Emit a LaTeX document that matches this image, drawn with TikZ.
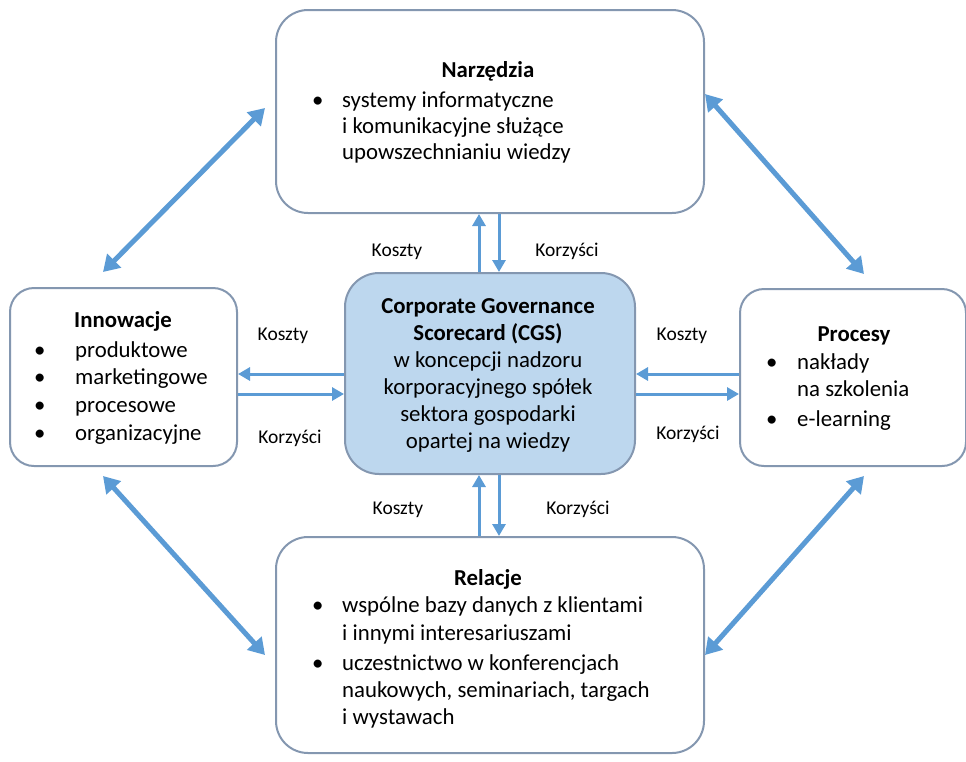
\documentclass[tikz,border=0pt]{standalone}
\usepackage{fontspec}
\setmainfont{Carlito}
\usetikzlibrary{arrows.meta}
\definecolor{arr}{HTML}{5B9BD5}
\definecolor{bord}{HTML}{8497B0}
\definecolor{cgsfill}{HTML}{BDD7EE}
\begin{document}
\begin{tikzpicture}[x=1pt,y=-1pt,
  box/.style={draw=bord,line width=2pt,fill=white,rounded corners=32pt},
  txt/.style={anchor=base west,inner sep=0,font=\fontsize{22.8}{26}\selectfont},
  ttl/.style={anchor=base,inner sep=0,font=\fontsize{22.8}{26}\selectfont\bfseries},
  ctr/.style={anchor=base,inner sep=0,font=\fontsize{22.8}{26}\selectfont},
  lbl/.style={anchor=base,inner sep=0,font=\fontsize{19.5}{22}\selectfont},
  sarr/.style={draw=arr,line width=3pt,-{Triangle[length=12pt,width=13pt]}},
  darr/.style={draw=arr,line width=5pt,{Triangle[length=16pt,width=19pt]}-{Triangle[length=16pt,width=19pt]}}]
\useasboundingbox (0,0) rectangle (966,761);
% boxes
\node[box,minimum width=428pt,minimum height=203pt,anchor=north west] (narz) at (275,9) {};
\node[box,rounded corners=24pt,minimum width=227pt,minimum height=178pt,anchor=north west] (inno) at (9,287) {};
\node[box,rounded corners=24pt,minimum width=226pt,minimum height=177pt,anchor=north west] (proc) at (739,288) {};
\node[box,minimum width=428pt,minimum height=216pt,anchor=north west] (rel) at (275,536) {};
\node[box,fill=cgsfill,rounded corners=34pt,minimum width=290pt,minimum height=201pt,anchor=north west] (cgs) at (344,272) {};
% Narzedzia text
\node[ttl] (t1) at (488,77) {Narzędzia};
\node[txt] (b1) at (312,107) {\textbullet};
\node[txt] (n1) at (342,107) {systemy informatyczne};
\node[txt] (n2) at (342,133) {i komunikacyjne służące};
\node[txt] (n3) at (342,159) {upowszechnianiu wiedzy};
% Innowacje
\node[ttl] (t2) at (123,327) {Innowacje};
\node[txt] (b2a) at (34,357) {\textbullet};
\node[txt] (i1) at (75,357) {produktowe};
\node[txt] (b2b) at (34,384) {\textbullet};
\node[txt] (i2) at (75,384) {marketingowe};
\node[txt] (b2c) at (34,412) {\textbullet};
\node[txt] (i3) at (75,412) {procesowe};
\node[txt] (b2d) at (34,440) {\textbullet};
\node[txt] (i4) at (75,440) {organizacyjne};
% Procesy
\node[ttl] (t3) at (854,341) {Procesy};
\node[txt] (b3a) at (766,369) {\textbullet};
\node[txt] (p1) at (797,369) {nakłady};
\node[txt] (p2) at (797,396) {na szkolenia};
\node[txt] (b3b) at (766,426) {\textbullet};
\node[txt] (p3) at (797,426) {e-learning};
% Relacje
\node[ttl] (t4) at (488,585) {Relacje};
\node[txt] (b4a) at (312,612) {\textbullet};
\node[txt] (r1) at (342,612) {wspólne bazy danych z klientami};
\node[txt] (r2) at (342,640) {i innymi interesariuszami};
\node[txt] (b4b) at (312,670) {\textbullet};
\node[txt] (r3) at (342,670) {uczestnictwo w konferencjach};
\node[txt] (r4) at (342,697) {naukowych, seminariach, targach};
\node[txt] (r5) at (342,724) {i wystawach};
% CGS
\node[ttl] (c1) at (488,313) {Corporate Governance};
\node[ttl] (c2) at (488,340) {Scorecard (CGS)};
\node[ctr] (c3) at (488,367) {w koncepcji nadzoru};
\node[ctr] (c4) at (488,394) {korporacyjnego spółek};
\node[ctr] (c5) at (488,421) {sektora gospodarki};
\node[ctr] (c6) at (488,448) {opartej na wiedzy};
% labels
\node[lbl] (k1) at (397,256) {Koszty};
\node[lbl] (z1) at (567,256) {Korzyści};
\node[lbl] (k2) at (398,514) {Koszty};
\node[lbl] (z2) at (578,514) {Korzyści};
\node[lbl] (k3) at (283,340) {Koszty};
\node[lbl] (z3) at (290,443) {Korzyści};
\node[lbl] (k4) at (682,340) {Koszty};
\node[lbl] (z4) at (688,439) {Korzyści};
% vertical arrows
\draw[sarr] ([xshift=-11pt]cgs.north) -- ([xshift=-11pt]cgs.north |- narz.south);
\draw[sarr] ([xshift=9pt]cgs.north |- narz.south) -- ([xshift=9pt]cgs.north);
\draw[sarr] ([xshift=-11pt]cgs.south |- rel.north) -- ([xshift=-11pt]cgs.south);
\draw[sarr] ([xshift=9pt]cgs.south) -- ([xshift=9pt]cgs.south |- rel.north);
% horizontal arrows
\coordinate (hl1) at (236,374);
\coordinate (hl2) at (236,394);
\draw[sarr] (cgs.west |- hl1) -- (inno.east |- hl1);
\draw[sarr] (inno.east |- hl2) -- (cgs.west |- hl2);
\draw[sarr] (proc.west |- hl1) -- (cgs.east |- hl1);
\draw[sarr] (cgs.east |- hl2) -- (proc.west |- hl2);
% diagonal arrows
\coordinate (d1a) at (103,272);
\coordinate (d1b) at (265,108);
\coordinate (d2a) at (705,94);
\coordinate (d2b) at (864,274);
\coordinate (d3a) at (103,476);
\coordinate (d3b) at (265,655);
\coordinate (d4a) at (864,476);
\coordinate (d4b) at (705,655);
\draw[darr] (d1a) -- (d1b);
\draw[darr] (d2a) -- (d2b);
\draw[darr] (d3a) -- (d3b);
\draw[darr] (d4a) -- (d4b);
\end{tikzpicture}
\end{document}
